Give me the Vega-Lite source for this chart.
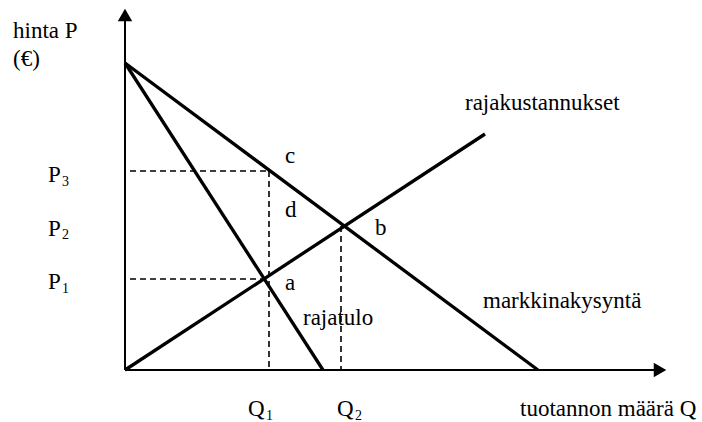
{
  "$schema": "https://vega.github.io/schema/vega-lite/v6.json",
  "width": 702,
  "height": 422,
  "autosize": "none",
  "padding": 0,
  "background": "white",
  "config": {"view": {"stroke": null}},
  "datasets": {
    "curves": [
      {"name": "markkinakysyntä", "q": 0, "p": 307, "q2": 413, "p2": 0},
      {"name": "rajatulo", "q": 0, "p": 307, "q2": 198, "p2": 0},
      {"name": "rajakustannukset", "q": 0, "p": 0, "q2": 360, "p2": 236}
    ],
    "axes": [
      {"name": "P", "q": 0, "p": 0, "q2": 0, "p2": 350},
      {"name": "Q", "q": 0, "p": 0, "q2": 530, "p2": 0}
    ],
    "guides": [
      {"name": "P3", "q": 5, "p": 199, "q2": 144, "p2": 199},
      {"name": "Q1", "q": 144, "p": 199, "q2": 144, "p2": 0},
      {"name": "P1", "q": 5, "p": 91, "q2": 143, "p2": 91},
      {"name": "Q2", "q": 216, "p": 144, "q2": 216, "p2": 0}
    ],
    "arrows": [
      {"axis": "P", "q": 0, "p": 355},
      {"axis": "Q", "q": 535, "p": 0}
    ],
    "labels": [
      {"text": "hinta P", "q": -112, "p": 332},
      {"text": "(€)", "q": -112, "p": 304},
      {"text": "P", "q": -77, "p": 188},
      {"text": "P", "q": -77, "p": 134},
      {"text": "P", "q": -77, "p": 81},
      {"text": "Q", "q": 123, "p": -46},
      {"text": "Q", "q": 212, "p": -46},
      {"text": "tuotannon määrä Q", "q": 395, "p": -46},
      {"text": "rajakustannukset", "q": 340, "p": 260},
      {"text": "markkinakysyntä", "q": 358, "p": 62},
      {"text": "rajatulo", "q": 178, "p": 45},
      {"text": "a", "q": 160, "p": 80},
      {"text": "b", "q": 250, "p": 135},
      {"text": "c", "q": 160, "p": 207},
      {"text": "d", "q": 160, "p": 153}
    ],
    "subs": [
      {"text": "3", "q": -63, "p": 184},
      {"text": "2", "q": -63, "p": 131},
      {"text": "1", "q": -63, "p": 77},
      {"text": "1", "q": 141, "p": -50},
      {"text": "2", "q": 230, "p": -50}
    ]
  },
  "encoding": {
    "x": {"field": "q", "type": "quantitative", "scale": {"domain": [-125, 577], "nice": false, "zero": false}, "axis": null},
    "y": {"field": "p", "type": "quantitative", "scale": {"domain": [-52, 370], "nice": false, "zero": false}, "axis": null}
  },
  "layer": [
    {
      "data": {"name": "guides"},
      "mark": {"type": "rule", "color": "black", "strokeWidth": 1.6, "strokeDash": [6, 4]},
      "encoding": {"x2": {"field": "q2"}, "y2": {"field": "p2"}}
    },
    {
      "data": {"name": "axes"},
      "mark": {"type": "rule", "color": "black", "strokeWidth": 2},
      "encoding": {"x2": {"field": "q2"}, "y2": {"field": "p2"}}
    },
    {
      "data": {"name": "curves"},
      "mark": {"type": "rule", "color": "black", "strokeWidth": 3.3},
      "encoding": {"x2": {"field": "q2"}, "y2": {"field": "p2"}}
    },
    {
      "data": {"name": "arrows"},
      "transform": [{"filter": "datum.axis === 'P'"}],
      "mark": {"type": "point", "shape": "triangle-up", "filled": true, "color": "black", "size": 210, "opacity": 1}
    },
    {
      "data": {"name": "arrows"},
      "transform": [{"filter": "datum.axis === 'Q'"}],
      "mark": {"type": "point", "shape": "triangle-right", "filled": true, "color": "black", "size": 210, "opacity": 1}
    },
    {
      "data": {"name": "labels"},
      "mark": {"type": "text", "font": "Liberation Serif", "fontSize": 23, "align": "left", "baseline": "alphabetic", "color": "black"},
      "encoding": {"text": {"field": "text"}}
    },
    {
      "data": {"name": "subs"},
      "mark": {"type": "text", "font": "Liberation Serif", "fontSize": 14, "align": "left", "baseline": "alphabetic", "color": "black"},
      "encoding": {"text": {"field": "text"}}
    }
  ]
}
